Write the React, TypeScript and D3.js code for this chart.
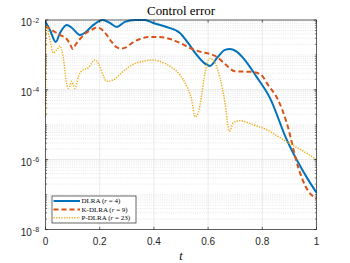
import React from "react";
import * as d3 from "d3";

// DLRA (r = 4)
const tDLRA = [0, 0.0166, 0.0376, 0.0535, 0.0782, 0.0978, 0.127, 0.149, 0.172, 0.211, 0.238, 0.263, 0.293, 0.33, 0.367, 0.397, 0.447, 0.496, 0.526, 0.558, 0.585, 0.607, 0.633, 0.662, 0.681, 0.707, 0.729, 0.779, 0.828, 0.89, 0.969, 1.0];
const vDLRA = [8.77e-3, 5.18e-3, 2.35e-3, 4.25e-3, 7.2e-3, 5.9e-3, 3.73e-3, 4.54e-3, 6.74e-3, 1.0e-2, 8.2e-3, 6.3e-3, 8.8e-3, 1.0e-2, 1.0e-2, 8.2e-3, 6.3e-3, 4.25e-3, 2.2e-3, 1.0e-3, 5.9e-4, 4.85e-4, 8.2e-4, 1.39e-3, 1.48e-3, 1.22e-3, 8.2e-4, 2.35e-4, 5.9e-5, 3.73e-6, 2.68e-7, 1.14e-7];

// K-DLRA (r = 9)
const tKDLRA = [0, 0.0166, 0.0413, 0.0609, 0.0782, 0.0904, 0.1004, 0.1125, 0.1273, 0.1494, 0.1753, 0.19, 0.2074, 0.2258, 0.2443, 0.2638, 0.2812, 0.297, 0.318, 0.349, 0.386, 0.4225, 0.459, 0.4963, 0.533, 0.57, 0.613, 0.632, 0.662, 0.6993, 0.7565, 0.7934, 0.821, 0.8579, 0.89, 0.9317, 0.95, 0.9686, 1.0];
const vKDLRA = [6.74e-3, 5.53e-3, 4.25e-3, 3.49e-3, 2.86e-3, 2.06e-3, 1.48e-3, 2.06e-3, 2.86e-3, 4.25e-3, 5.53e-3, 6.1e-3, 5.35e-3, 3.73e-3, 2.35e-3, 1.64e-3, 1.53e-3, 1.64e-3, 2.16e-3, 2.86e-3, 3.27e-3, 3.27e-3, 2.86e-3, 2.2e-3, 1.58e-3, 1.24e-3, 1.03e-3, 8.77e-4, 5.53e-4, 3.38e-4, 3.27e-4, 2.77e-4, 1.39e-4, 5.18e-5, 1.14e-5, 6.3e-7, 2.51e-7, 1.3e-7, 7.7e-8];

// P-DLRA (r = 23)
const tPDLRA = [0, 0.003, 0.0166, 0.0288, 0.0413, 0.0535, 0.0657, 0.0782, 0.0841, 0.0904, 0.0967, 0.1026, 0.1089, 0.121, 0.1336, 0.1568, 0.1827, 0.2011, 0.2122, 0.2258, 0.2502, 0.2871, 0.3303, 0.3598, 0.3919, 0.4225, 0.4594, 0.4963, 0.521, 0.5395, 0.5517, 0.5638, 0.5764, 0.5886, 0.607, 0.6255, 0.6439, 0.6624, 0.6782, 0.693, 0.7177, 0.7668, 0.8162, 0.8653, 0.9085, 0.9513, 1.0];
const vPDLRA = [1.69e-5, 6.74e-3, 2.68e-3, 1.14e-3, 1.39e-3, 1.81e-3, 8.2e-4, 1.48e-4, 1.1e-4, 1.3e-4, 1.75e-4, 1.39e-4, 1.1e-4, 2.35e-4, 3.49e-4, 4.25e-4, 7.2e-4, 4.54e-4, 2.68e-4, 1.75e-4, 1.93e-4, 3.38e-4, 5.71e-4, 6.52e-4, 7.2e-4, 6.52e-4, 4.69e-4, 2.68e-4, 1.26e-4, 5.18e-5, 1.69e-5, 2.2e-5, 7.2e-5, 3.06e-4, 7.94e-4, 5.9e-4, 2.2e-4, 4.25e-5, 6.52e-6, 1.14e-5, 1.3e-5, 1.0e-5, 7.2e-6, 4.25e-6, 2.68e-6, 1.75e-6, 1.0e-6];

const xTicks = [0, 0.2, 0.4, 0.6, 0.8, 1];
const xTickLabels = ["0", "0.2", "0.4", "0.6", "0.8", "1"];
const yTickExps = [-2, -4, -6, -8];
const legendNames = ["DLRA", "K-DLRA", "P-DLRA"];
const legendRanks = ["4", "9", "23"];
const title = "Control error";
const xLabel = "t";

const W = 350, H = 263;
const L = 45.5, R = 316.5, T = 20, B = 229.5;
const AX = "#262626";

export default function App() {
  const x = d3.scaleLinear().domain([0, 1]).range([L, R]);
  const y = d3.scaleLog().domain([1e-8, 1e-2]).range([B, T]);

  const line = d3
    .line<[number, number]>()
    .x((d) => x(d[0]))
    .y((d) => y(d[1]))
    .curve(d3.curveMonotoneX);

  const series = [
    { t: tDLRA, v: vDLRA, color: "#0072BD", dash: undefined as string | undefined, w: 2 },
    { t: tKDLRA, v: vKDLRA, color: "#D95319", dash: "5,3", w: 2 },
    { t: tPDLRA, v: vPDLRA, color: "#EDB120", dash: "1.3,1.3", w: 1.5 },
  ];

  const minorVals: number[] = [];
  for (let e = -8; e < -2; e++) {
    for (let k = 1; k <= 9; k++) {
      minorVals.push(k * Math.pow(10, e));
    }
  }
  const majorY = yTickExps.map((e) => Math.pow(10, e));

  const lgX = 52, lgY = 196, lgW = 84, lgH = 27;

  return (
    <div style={{ position: "fixed", left: 0, top: 0, width: W, height: H, background: "#fff" }}>
      <svg width={W} height={H} style={{ display: "block" }}>
        <rect x={0} y={0} width={W} height={H} fill="#fff" />
        {minorVals.map((v, i) => (
          <line key={"mg" + i} x1={L} x2={R} y1={y(v)} y2={y(v)} stroke="#d6d6d6" strokeWidth={0.6} strokeDasharray="1,1.2" />
        ))}
        {majorY.map((v, i) => (
          <line key={"gy" + i} x1={L} x2={R} y1={y(v)} y2={y(v)} stroke="#e2e2e2" strokeWidth={0.7} />
        ))}
        {xTicks.map((t, i) => (
          <line key={"gx" + i} x1={x(t)} x2={x(t)} y1={T} y2={B} stroke="#e2e2e2" strokeWidth={0.7} />
        ))}
        <defs>
          <clipPath id="clip">
            <rect x={L - 1} y={T - 2} width={R - L + 2} height={B - T + 4} />
          </clipPath>
        </defs>
        <g clipPath="url(#clip)">
          {series.map((s, i) => (
            <path
              key={"s" + i}
              d={line(s.t.map((t, j) => [t, s.v[j]] as [number, number])) || ""}
              fill="none"
              stroke={s.color}
              strokeWidth={s.w}
              strokeDasharray={s.dash}
            />
          ))}
        </g>
        <rect x={L} y={T} width={R - L} height={B - T} fill="none" stroke={AX} strokeWidth={0.7} />
        {xTicks.map((t, i) => (
          <g key={"xt" + i}>
            <line x1={x(t)} x2={x(t)} y1={B} y2={B - 2.7} stroke={AX} strokeWidth={0.7} />
            <line x1={x(t)} x2={x(t)} y1={T} y2={T + 2.7} stroke={AX} strokeWidth={0.7} />
            <text x={x(t)} y={245} textAnchor="middle" fontFamily="Liberation Sans, Arial, sans-serif" fontSize={10} fill={AX}>
              {xTickLabels[i]}
            </text>
          </g>
        ))}
        {minorVals.map((v, i) => (
          <g key={"ym" + i}>
            <line x1={L} x2={L + 1.6} y1={y(v)} y2={y(v)} stroke={AX} strokeWidth={0.6} />
            <line x1={R} x2={R - 1.6} y1={y(v)} y2={y(v)} stroke={AX} strokeWidth={0.6} />
          </g>
        ))}
        {yTickExps.map((e, i) => {
          const yy = y(Math.pow(10, e));
          return (
            <g key={"yt" + i}>
              <line x1={L} x2={L + 2.7} y1={yy} y2={yy} stroke={AX} strokeWidth={0.7} />
              <line x1={R} x2={R - 2.7} y1={yy} y2={yy} stroke={AX} strokeWidth={0.7} />
              <text x={31.8} y={yy + 6.2} textAnchor="end" fontFamily="Liberation Sans, Arial, sans-serif" fontSize={10} fill={AX}>
                10
              </text>
              <text x={32.8} y={yy + 2.6} textAnchor="start" fontFamily="Liberation Sans, Arial, sans-serif" fontSize={7} fill={AX}>
                {"-" + String(-e)}
              </text>
            </g>
          );
        })}
        <text x={181} y={14.5} textAnchor="middle" fontFamily="Liberation Serif, Times New Roman, serif" fontSize={12} fill="#000" textLength={68} lengthAdjust="spacingAndGlyphs">
          {title}
        </text>
        <text x={181} y={260} textAnchor="middle" fontFamily="Liberation Serif, Times New Roman, serif" fontStyle="italic" fontSize={12} fill="#000">
          {xLabel}
        </text>
        <rect x={lgX} y={lgY} width={lgW} height={lgH} fill="#fff" stroke={AX} strokeWidth={0.7} />
        {series.map((s, i) => {
          const yy = lgY + 5 + i * 8.4;
          return (
            <g key={"lg" + i}>
              <line x1={53.5} x2={80} y1={yy} y2={yy} stroke={s.color} strokeWidth={s.w} strokeDasharray={s.dash} />
              <text x={81.5} y={yy + 2.4} fontFamily="Liberation Serif, Times New Roman, serif" fontSize={7} fill="#000">
                {legendNames[i] + " ("}
                <tspan fontStyle="italic">r</tspan>
                {" = " + legendRanks[i] + ")"}
              </text>
            </g>
          );
        })}
      </svg>
    </div>
  );
}
